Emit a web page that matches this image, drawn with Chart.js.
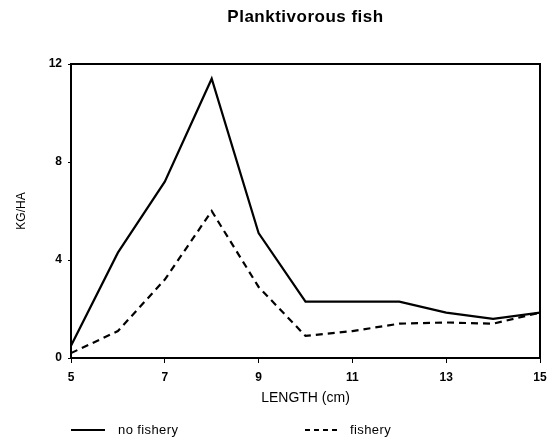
<!DOCTYPE html>
<html>
<head>
<meta charset="utf-8">
<script src="https://cdn.jsdelivr.net/npm/chart.js@4/dist/chart.umd.min.js"></script>
<style>
  html, body { margin: 0; padding: 0; background: #fff; }
  #wrap { width: 554px; height: 441px; }
</style>
</head>
<body>
<div id="wrap"><canvas id="chart1" width="554" height="441"></canvas></div>
<script>
// data
const lengths = [5, 6, 7, 8, 9, 10, 11, 12, 13, 14, 15];
const noFishery = [0.5, 4.3, 7.2, 11.4, 5.1, 2.3, 2.3, 2.3, 1.85, 1.6, 1.85];
const fishery = [0.2, 1.1, 3.2, 6.0, 2.9, 0.9, 1.1, 1.4, 1.45, 1.4, 1.85];
const xTicks = [5, 7, 9, 11, 13, 15];
const yTicks = [0, 4, 8, 12];

const FONT = "'Liberation Sans', Arial, sans-serif";

const pts = arr => lengths.map((x, i) => ({ x: x, y: arr[i] }));

// frame, title and bottom legend
const decor = {
  id: "decor",
  afterDraw(chart) {
    const ctx = chart.ctx;
    const a = chart.chartArea;
    ctx.save();
    ctx.strokeStyle = "#000";
    ctx.lineWidth = 2;
    ctx.strokeRect(a.left, a.top, a.right - a.left, a.bottom - a.top);

    ctx.fillStyle = "#000";
    ctx.font = "bold 17px " + FONT;
    ctx.letterSpacing = "0.5px";
    ctx.textAlign = "center";
    ctx.textBaseline = "middle";
    ctx.fillText("Planktivorous fish", (a.left + a.right) / 2, 17);

    const y = 430;
    const items = [
      { ds: chart.data.datasets[0], x: a.left, w: 34 },
      { ds: chart.data.datasets[1], x: a.left + 234, w: 32, dash: [5, 4] }
    ];
    ctx.font = "13px " + FONT;
    ctx.letterSpacing = "0.4px";
    ctx.textAlign = "left";
    items.forEach(it => {
      ctx.beginPath();
      ctx.setLineDash(it.dash || []);
      ctx.lineWidth = 2;
      ctx.moveTo(it.x, y);
      ctx.lineTo(it.x + it.w, y);
      ctx.stroke();
      ctx.setLineDash([]);
      ctx.fillText(it.ds.label, it.x + it.w + 13, y);
    });
    ctx.restore();
  }
};

new Chart(document.getElementById("chart1"), {
  type: "line",
  data: {
    datasets: [{
      label: "no fishery",
      data: pts(noFishery),
      borderColor: "#000",
      borderWidth: 2.2,
      pointRadius: 0,
      tension: 0
    }, {
      label: "fishery",
      data: pts(fishery),
      borderColor: "#000",
      borderWidth: 2.2,
      borderDash: [7, 5],
      pointRadius: 0,
      tension: 0
    }]
  },
  options: {
    responsive: false,
    animation: false,
    layout: { padding: { left: 0, right: 14, top: 64, bottom: 34 } },
    plugins: {
      legend: { display: false },
      title: { display: false },
      tooltip: { enabled: false }
    },
    scales: {
      x: {
        type: "linear",
        min: 5,
        max: 15,
        afterFit: s => { s.height = 49; },
        afterBuildTicks: s => { s.ticks = xTicks.map(v => ({ value: v })); },
        border: { color: "#000", width: 2 },
        grid: { drawOnChartArea: false, color: "#000", tickLength: 5, lineWidth: 1 },
        ticks: { color: "#000", font: { family: FONT, size: 12, weight: "bold" }, padding: 7, maxRotation: 0 },
        title: { display: true, text: "LENGTH (cm)", color: "#000", font: { family: FONT, size: 14 }, padding: 0 }
      },
      y: {
        min: 0,
        max: 12,
        afterFit: s => { s.width = 71; },
        afterBuildTicks: s => { s.ticks = yTicks.map(v => ({ value: v })); },
        border: { color: "#000", width: 2 },
        grid: { drawOnChartArea: false, color: "#000", tickLength: 3, lineWidth: 1 },
        ticks: { color: "#000", font: { family: FONT, size: 12, weight: "bold" }, padding: 6 },
        title: { display: true, text: "KG/HA", color: "#000", font: { family: FONT, size: 12 }, padding: { top: 14, bottom: 0 } }
      }
    }
  },
  plugins: [decor]
});
</script>
</body>
</html>
